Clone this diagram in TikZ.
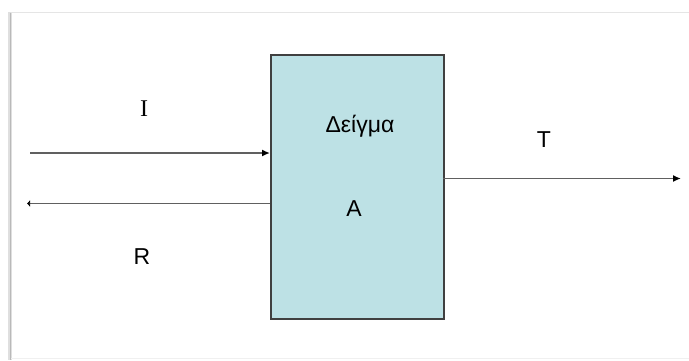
\documentclass[tikz,border=0pt]{standalone}
\usepackage{fontspec}
\setmainfont{Liberation Sans}
\newfontfamily\serifone{Liberation Serif}
\usetikzlibrary{arrows.meta}
\definecolor{boxfill}{HTML}{BDE1E5}
\definecolor{linecol}{HTML}{606060}
\definecolor{boxline}{HTML}{404040}
\begin{document}
\begin{tikzpicture}[x=1pt,y=-1pt,
  conn/.style={draw=linecol,line width=1.7pt},
  tip/.style={-{Latex[length=8pt,width=7pt,color=black]}},
  lbl/.style={font=\fontsize{23}{26}\selectfont,text=black,inner sep=0pt}]
\useasboundingbox[fill=white] (0,0) rectangle (689,360);
% frame with shadow
\fill[gray!25] (8,12) rectangle (12,360);
\fill[gray!55] (9.5,13) rectangle (11,360);
\draw[gray!20,line width=1pt] (11,12.5) -- (689,12.5);
\draw[gray!12,line width=1pt] (11,358) -- (689,358);
% box
\node (box) [draw=boxline,line width=1.5pt,fill=boxfill,minimum width=173pt,minimum height=264pt,inner sep=0pt,anchor=north west] at (270,54) {};
\node (d) [lbl] at (360,126) {Δείγμα};
\node (a) [lbl] at (354,209) {A};
% coordinates
\coordinate (iin) at (30,153);
\coordinate (iend) at (270,153);
\coordinate (rst) at (270,203.5);
\coordinate (rend) at (27,203.5);
\coordinate (tst) at (443,178.5);
\coordinate (tend) at (681,178.5);
\draw[conn,tip] (iin) -- (iend);
\draw[conn,-{Latex[length=3pt,width=7pt,color=black]}] (rst) -- (rend);
\draw[conn,tip] (tst) -- (tend);
\node (li) [lbl,font=\serifone\fontsize{24}{26}\selectfont] at (144,109) {I};
\node (lr) [lbl] at (142,257) {R};
\node (lt) [lbl] at (544,140) {T};
\end{tikzpicture}
\end{document}
